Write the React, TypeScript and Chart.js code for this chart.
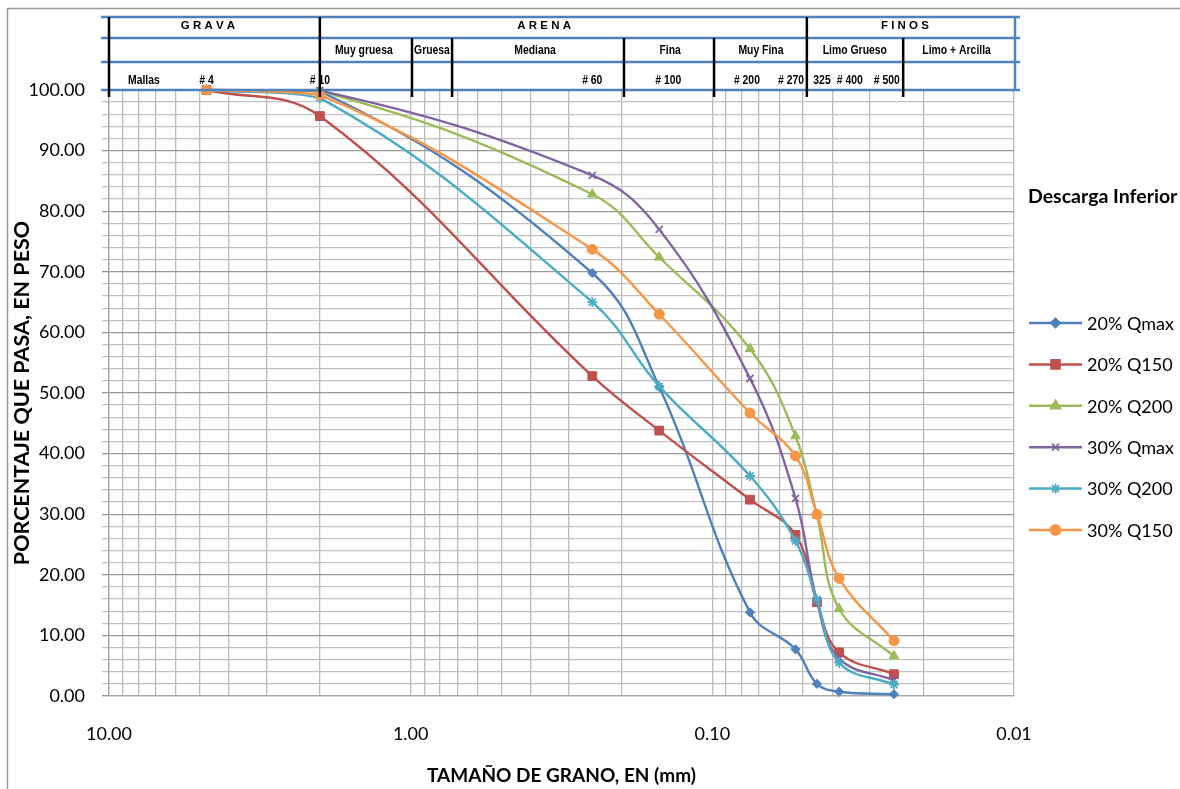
import React, { useEffect, useRef } from 'react';
import { Chart, registerables } from 'chart.js';
import { drawPoint } from 'chart.js/helpers';

Chart.register(...registerables);

// ---- data ----
const sieveSizes = [4.75, 2.0, 0.25, 0.15, 0.075, 0.053, 0.045, 0.038, 0.025];
const seriesLabels = ['20% Qmax', '20% Q150', '20% Q200', '30% Qmax', '30% Q200', '30% Q150'];
const s20Qmax = [100, 99.8, 69.8, 51.0, 13.8, 7.7, 2.0, 0.7, 0.3];
const s20Q150 = [100, 95.7, 52.8, 43.8, 32.4, 26.6, 15.5, 7.2, 3.6];
const s20Q200 = [100, 99.8, 82.8, 72.4, 57.3, 42.9, 29.8, 14.4, 6.6];
const s30Qmax = [100, 99.9, 85.9, 77.0, 52.4, 32.6, 15.7, 6.2, 2.6];
const s30Q200 = [100, 98.7, 65.0, 51.1, 36.3, 25.6, 15.9, 5.5, 1.9];
const s30Q150 = [100, 99.2, 73.7, 63.0, 46.7, 39.6, 30.0, 19.4, 9.1];
const seriesValues = [s20Qmax, s20Q150, s20Q200, s30Qmax, s30Q200, s30Q150];
const seriesColors = ['#4F81BD', '#C0504D', '#9BBB59', '#8064A2', '#4BACC6', '#F79646'];
const seriesMarkers = ['rectRot', 'rect', 'triangle', 'crossRot', 'star', 'circle'];
const seriesMarkerRadius = [4.6, 6.2, 5.6, 5, 5, 5];

const xLabelValues = [10, 1, 0.1, 0.01];
const xTickLabels = ['10.00', '1.00', '0.10', '0.01'];
const xGridValues: number[] = [];
[0.01, 0.1, 1].forEach((d) => { for (let m = 1; m <= 9; m++) xGridValues.push(+(m * d).toPrecision(6)); });
xGridValues.push(10);
const yTickValues: number[] = [];
for (let v = 0; v <= 100; v += 2) yTickValues.push(v);

const xTitle = 'TAMAÑO DE GRANO, EN (mm)';
const yTitle = 'PORCENTAJE QUE PASA, EN PESO';
const legendTitle = 'Descarga Inferior';

// header table (positions in mm along the grain-size axis)
const groupLabels = ['G R A V A', 'A R E N A', 'F I N O S'];
const groupLabelSizes = [4.7, 0.361, 0.023];
const classLabels = ['Muy gruesa', 'Gruesa', 'Mediana', 'Fina', 'Muy Fina', 'Limo Grueso', 'Limo + Arcilla'];
const classLabelSizes = [1.43, 0.85, 0.387, 0.138, 0.069, 0.0337, 0.0155];
const sieveLabels = ['Mallas', '# 4', '# 10', '# 60', '# 100', '# 200', '# 270', '325', '# 400', '# 500'];
const sieveLabelSizes = [7.66, 4.75, 2.0, 0.25, 0.14, 0.0768, 0.0548, 0.0433, 0.035, 0.0264];
const majorDividers = [10, 2.0, 0.0486];
const minorDividers = [0.99, 0.729, 0.1963, 0.0987, 0.0233];

const FONT = "Lato, 'Noto Sans', sans-serif";
const ARIAL = "'Liberation Sans', Arial, sans-serif";

function narrowText(ctx: CanvasRenderingContext2D, t: string, x: number, y: number, sx: number) {
  ctx.save();
  ctx.translate(x, y);
  ctx.scale(sx, 1);
  ctx.fillText(t, 0, 0);
  ctx.restore();
}

const decorPlugin = {
  id: 'decor',
  afterDraw(chart: any) {
    const ctx = chart.ctx as CanvasRenderingContext2D;
    const x = chart.scales.x;
    const area = chart.chartArea;
    const rows = [17, 38, 62, area.top];
    ctx.save();
    // header texts
    ctx.fillStyle = '#000';
    ctx.textAlign = 'center';
    ctx.textBaseline = 'middle';
    ctx.font = `bold 11.5px ${ARIAL}`;
    groupLabels.forEach((t, i) => narrowText(ctx, t, x.getPixelForValue(groupLabelSizes[i]), 26, 1));
    ctx.font = `bold 13px ${ARIAL}`;
    classLabels.forEach((t, i) => narrowText(ctx, t, x.getPixelForValue(classLabelSizes[i]), 50, 0.8));
    sieveLabels.forEach((t, i) => narrowText(ctx, t, x.getPixelForValue(sieveLabelSizes[i]), 80, 0.8));
    // horizontal blue lines
    ctx.strokeStyle = '#4F81BD';
    ctx.lineWidth = 2.5;
    rows.forEach((y) => {
      ctx.beginPath();
      ctx.moveTo(area.left - 8, y);
      ctx.lineTo(area.right + 6, y);
      ctx.stroke();
    });
    ctx.beginPath();
    ctx.moveTo(area.right + 1, rows[0]);
    ctx.lineTo(area.right + 1, area.top);
    ctx.stroke();
    // black dividers
    ctx.strokeStyle = '#000';
    ctx.lineWidth = 2.5;
    majorDividers.forEach((v) => {
      const px = x.getPixelForValue(v);
      ctx.beginPath();
      ctx.moveTo(px, rows[0]);
      ctx.lineTo(px, area.top + 7);
      ctx.stroke();
    });
    minorDividers.forEach((v) => {
      const px = x.getPixelForValue(v);
      ctx.beginPath();
      ctx.moveTo(px, rows[1]);
      ctx.lineTo(px, area.top + 7);
      ctx.stroke();
    });
    // legend
    ctx.textAlign = 'left';
    ctx.font = `bold 19.5px ${FONT}`;
    ctx.fillText(legendTitle, 1028, 197);
    ctx.font = `18px ${FONT}`;
    chart.data.datasets.forEach((ds: any, i: number) => {
      const y = 323 + i * 41.4;
      ctx.strokeStyle = ds.borderColor;
      ctx.lineWidth = 2.5;
      ctx.beginPath();
      ctx.moveTo(1029, y);
      ctx.lineTo(1082, y);
      ctx.stroke();
      ctx.fillStyle = ds.borderColor;
      ctx.strokeStyle = ds.borderColor;
      ctx.lineWidth = 1.8;
      drawPoint(ctx, { pointStyle: ds.pointStyle, radius: ds.pointRadius, rotation: 0, borderWidth: 1.8 } as any, 1055.5, y);
      ctx.fillStyle = '#000';
      ctx.fillText(ds.label, 1087, y + 1);
    });
    // outer border
    ctx.strokeStyle = '#9A9A9A';
    ctx.lineWidth = 1.5;
    ctx.beginPath();
    ctx.moveTo(7.5, 789);
    ctx.lineTo(7.5, 8.5);
    ctx.lineTo(1180, 8.5);
    ctx.stroke();
    ctx.restore();
  },
};

export default function App() {
  const ref = useRef<HTMLCanvasElement>(null);
  useEffect(() => {
    const datasets = seriesLabels.map((label, i) => ({
      label,
      data: sieveSizes.map((s, j) => ({ x: s, y: seriesValues[i][j] })),
      borderColor: seriesColors[i],
      backgroundColor: seriesColors[i],
      pointBackgroundColor: seriesColors[i],
      pointBorderColor: seriesColors[i],
      pointStyle: seriesMarkers[i],
      pointRadius: seriesMarkerRadius[i],
      pointBorderWidth: seriesMarkers[i] === 'crossRot' || seriesMarkers[i] === 'star' ? 1.8 : 1,
      borderWidth: 2.4,
      tension: 0.4,
      clip: false as any,
      order: seriesLabels.length - i,
    }));
    const chart = new Chart(ref.current as HTMLCanvasElement, {
      type: 'line',
      data: { datasets } as any,
      options: {
        responsive: false,
        animation: false,
        layout: { padding: { top: 90, right: 166, left: 0, bottom: 0 } },
        plugins: { legend: { display: false }, tooltip: { enabled: false } },
        scales: {
          x: {
            type: 'logarithmic',
            reverse: true,
            min: 0.01,
            max: 10,
            afterBuildTicks: (s: any) => { s.ticks = xGridValues.map((v) => ({ value: v })); },
            afterFit: (s: any) => { s.height = 93; },
            ticks: {
              autoSkip: false,
              maxRotation: 0,
              minRotation: 0,
              padding: 27,
              color: '#000',
              font: { family: FONT, size: 18 },
              callback: (v: any) => {
                const i = xLabelValues.findIndex((m) => Math.abs(m - v) / m < 1e-6);
                return i >= 0 ? xTickLabels[i] : '';
              },
            },
            grid: { color: '#BCBCBC', lineWidth: 1.3, drawTicks: false },
            border: { color: '#A6A6A6', width: 1.3 },
            title: {
              display: true,
              text: xTitle,
              color: '#000',
              font: { family: FONT, size: 19, weight: 'bold' },
              padding: { top: 0, bottom: 2 },
            },
          } as any,
          y: {
            type: 'linear',
            min: 0,
            max: 100,
            afterBuildTicks: (s: any) => { s.ticks = yTickValues.map((v) => ({ value: v })); },
            afterFit: (s: any) => { s.width = 109; },
            ticks: {
              autoSkip: false,
              padding: 17,
              color: '#000',
              font: { family: FONT, size: 18 },
              callback: (v: any) => (Number(v) % 10 === 0 ? Number(v).toFixed(2) : ''),
            },
            grid: {
              color: (c: any) => (c.tick && c.tick.value % 10 === 0 ? '#989898' : '#C2C2C2'),
              lineWidth: 1.3,
              tickLength: 7,
            },
            border: { color: '#A6A6A6', width: 1.3 },
            title: {
              display: true,
              text: yTitle,
              color: '#000',
              font: { family: FONT, size: 21.5, weight: 'bold' },
              padding: { top: 9, bottom: 0 },
            },
          } as any,
        },
      },
      plugins: [decorPlugin],
    });
    return () => chart.destroy();
  }, []);
  return (
    <div style={{ position: 'fixed', left: 0, top: 0, width: 1180, height: 789, background: '#fff' }}>
      <canvas ref={ref} width={1180} height={789} style={{ width: 1180, height: 789, display: 'block' }} />
    </div>
  );
}
